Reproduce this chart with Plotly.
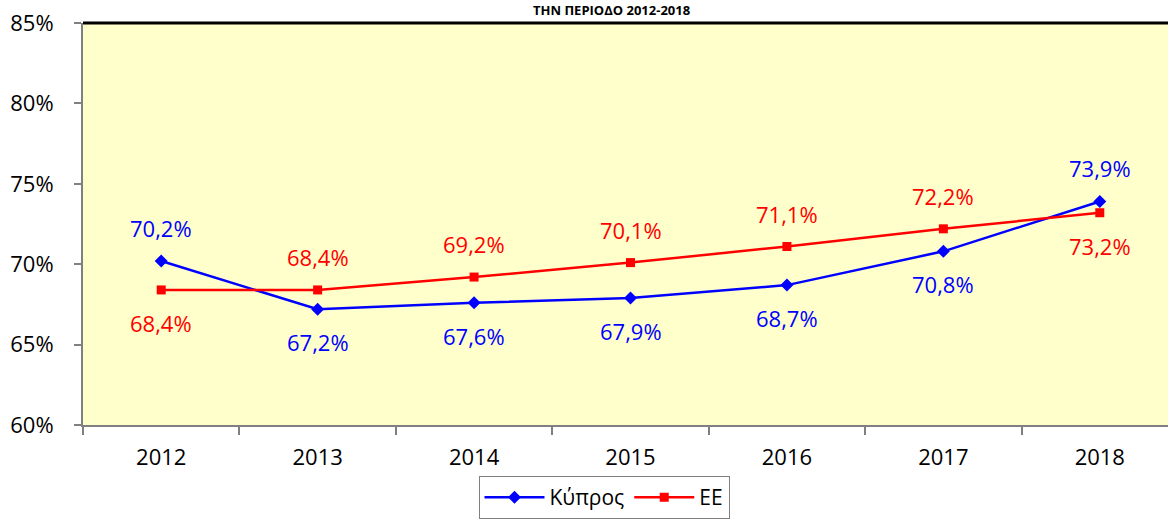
import plotly.graph_objects as go

years = ["2012", "2013", "2014", "2015", "2016", "2017", "2018"]
cyprus = [70.2, 67.2, 67.6, 67.9, 68.7, 70.8, 73.9]
eu = [68.4, 68.4, 69.2, 70.1, 71.1, 72.2, 73.2]
cyprus_label_pos = ["above", "below", "below", "below", "below", "below", "above"]
eu_label_pos = ["below", "above", "above", "above", "above", "above", "below"]
y_ticks = [60, 65, 70, 75, 80, 85]
title_text = "ΤΗΝ ΠΕΡΙΟΔΟ 2012-2018"

FONT = "Open Sans"
BLUE = "#0000FF"
RED = "#FF0000"

W, H = 1168, 520
L, T, B = 83, 23, 95
pw = W - L
ph = H - T - B

fig = go.Figure()
fig.add_trace(go.Scatter(
    x=years, y=cyprus, name="Κύπρος", mode="lines+markers",
    line=dict(color=BLUE, width=2.5),
    marker=dict(symbol="diamond", size=10, color=BLUE),
))
fig.add_trace(go.Scatter(
    x=years, y=eu, name="ΕΕ", mode="lines+markers",
    line=dict(color=RED, width=2.5),
    marker=dict(symbol="square", size=9, color=RED),
))

def fmt(v):
    return f"{v:.1f}".replace(".", ",") + "%"

annotations = []
for series, pos, col in ((cyprus, cyprus_label_pos, BLUE), (eu, eu_label_pos, RED)):
    for i, (v, p) in enumerate(zip(series, pos)):
        annotations.append(dict(
            x=i, y=v, xref="x", yref="y", text=fmt(v), showarrow=False,
            yshift=33 if p == "above" else -33,
            font=dict(family=FONT, size=22, color=col),
        ))

# title (only its last line is shown in the reference)
annotations.append(dict(
    x=(611 - L) / pw, y=(H - B - 21) / ph, xref="paper", yref="paper",
    text="<b>" + title_text + "</b>",
    showarrow=False, xanchor="center", yanchor="bottom",
    font=dict(family=FONT, size=13, color="black"),
))

band = 1095 / 7.0
xmax = -0.5 + pw / band

fig.update_layout(
    width=W, height=H,
    margin=dict(l=L, r=0, t=T, b=B, pad=0, autoexpand=False),
    paper_bgcolor="white",
    plot_bgcolor="#FFFFCC",
    font=dict(family=FONT, size=22, color="black"),
    showlegend=True,
    legend=dict(
        orientation="h", x=(604 - L) / pw, xanchor="center",
        y=-(519 - (H - B)) / ph, yanchor="bottom",
        bordercolor="#808080", borderwidth=1, bgcolor="white",
        font=dict(family=FONT, size=21, color="black"),
        itemwidth=60, tracegroupgap=0,
    ),
    xaxis=dict(
        type="category", range=[-0.5, xmax], automargin=False,
        showgrid=False, zeroline=False,
        showline=True, linecolor="#808080", linewidth=2,
        ticks="outside", tickson="boundaries", ticklen=8, tickcolor="#808080", tickwidth=2,
        ticklabelstandoff=12,
        tickfont=dict(family=FONT, size=22, color="black"),
    ),
    yaxis=dict(
        range=[60, 85], tickvals=y_ticks, ticktext=[f"{t}%" for t in y_ticks],
        automargin=False,
        showgrid=False, zeroline=False,
        showline=True, linecolor="#808080", linewidth=2,
        ticks="outside", ticklen=7, tickcolor="#808080", tickwidth=2,
        ticklabelstandoff=16,
        tickfont=dict(family=FONT, size=22, color="black"),
    ),
    annotations=annotations,
    shapes=[dict(type="line", xref="paper", yref="paper", x0=0, x1=1, y0=1, y1=1,
                 line=dict(color="black", width=3))],
)

fig.write_html(
    "out.html",
    config={"displayModeBar": False},
    post_script="document.body.style.margin='0';document.body.style.overflow='hidden';",
)
